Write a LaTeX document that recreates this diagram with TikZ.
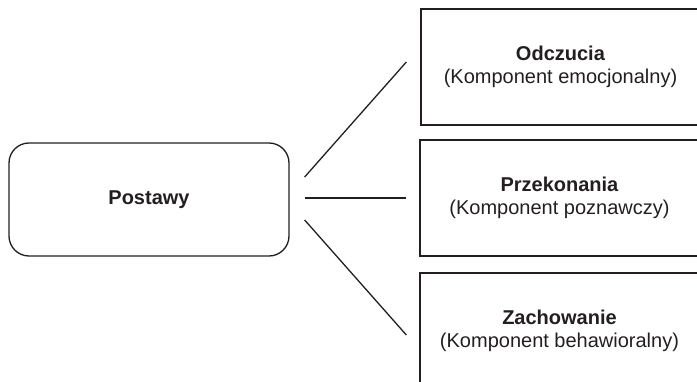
\documentclass[tikz,border=0pt]{standalone}
\usepackage{fontspec}
\setmainfont{Liberation Sans}
\definecolor{ink}{HTML}{231F20}
\begin{document}
\begin{tikzpicture}[x=1pt,y=-1pt,
  every node/.style={font=\fontsize{20}{23}\selectfont, text=ink, align=center, inner sep=0pt},
  rootbox/.style={draw=ink, line width=1.3pt, rounded corners=20pt, minimum width=280pt, minimum height=113pt},
  compbox/.style={draw=ink, line width=1.3pt, minimum width=279pt, minimum height=116pt},
  link/.style={draw=ink, line width=1.3pt}]
  \useasboundingbox (0,0) rectangle (697,382);
  \clip (0,0) rectangle (697,382);

  % central concept
  \node[rootbox] (post) at (149,199.5) {\textbf{Postawy}};

  % three components
  \node[compbox] (odc) at (560.5,67) {\textbf{Odczucia}\\(Komponent emocjonalny)};
  \node[compbox] (prz) at (559.5,198) {\textbf{Przekonania}\\(Komponent poznawczy)};
  \node[compbox] (zach) at (559.5,331) {\textbf{Zachowanie}\\(Komponent behawioralny)};

  % connectors, kept clear of the boxes
  \draw[link] ([shift={(15pt,22.5pt)}]post.east) -- ([shift={(-14pt,5pt)}]odc.west);
  \draw[link] ([shift={(15pt,1.5pt)}]post.east) -- ([shift={(-13pt,0pt)}]prz.west);
  \draw[link] ([shift={(15pt,-20.5pt)}]post.east) -- ([shift={(-13pt,-4pt)}]zach.west);
\end{tikzpicture}
\end{document}
